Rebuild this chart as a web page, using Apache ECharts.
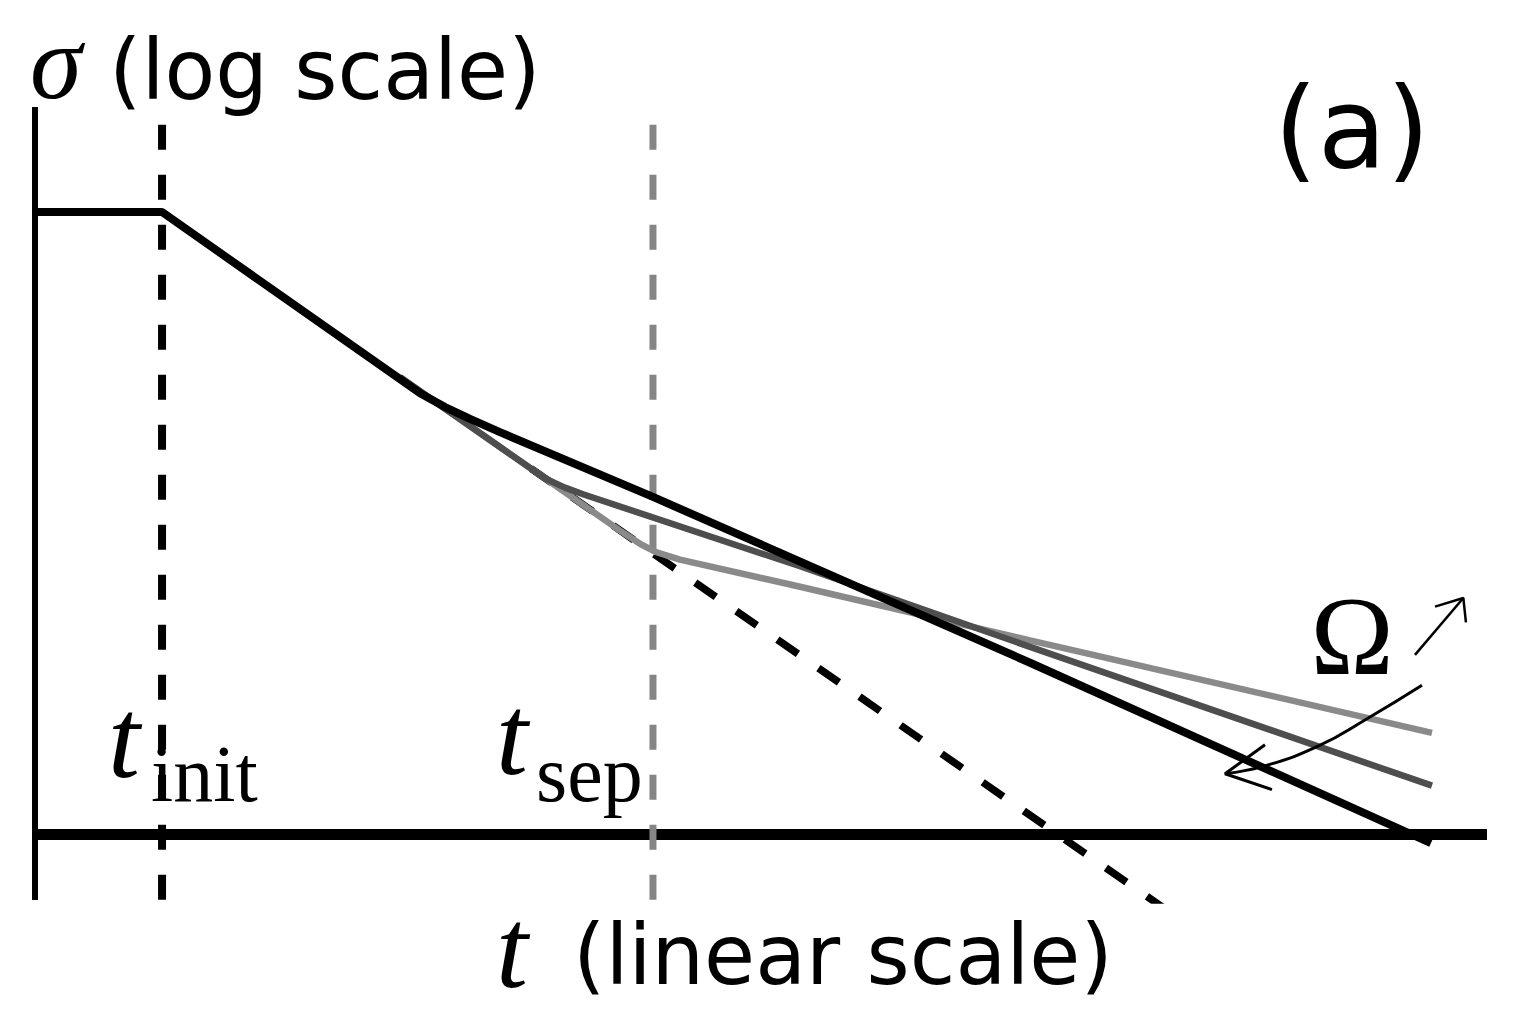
<!DOCTYPE html>
<html>
<head>
<meta charset="utf-8">
<title>sigma (log scale) vs t (linear scale)</title>
<script src="https://cdn.jsdelivr.net/npm/echarts@6/dist/echarts.min.js"></script>
<style>
  html, body { margin: 0; padding: 0; background: #ffffff; }
  #chart { width: 1514px; height: 1017px; }
</style>
</head>
<body>
<div id="chart"></div>
<script>
// schematic: t in arbitrary linear units, sigma in arbitrary log units (0 = t axis)
var tInit = 8.75
var tSep = 42.56
var markerTop = 10.73
var markerBottom = -1

// highest Omega (black), starts with the plateau before t_init
var sigmaHigh = [[0, 9.41], [8.75, 9.41], [26.52, 6.67], [28.24, 6.46], [29.96, 6.28], [32.02, 6.08], [42.56, 5.10], [68.53, 2.59], [96.14, -0.14]]
// middle Omega (dark grey)
var sigmaMid = [[25.14, 6.91], [35.12, 5.38], [36.50, 5.24], [37.74, 5.14], [52.69, 4.05], [68.53, 2.83], [96.21, 0.73]]
// lowest Omega (light grey)
var sigmaLow = [[25.14, 6.91], [40.29, 4.59], [41.67, 4.39], [42.70, 4.27], [44.42, 4.15], [52.69, 3.74], [68.53, 2.93], [96.21, 1.53]]
// pure decay continued (dashed)
var sigmaPure = [[34.16, 5.53], [78.51, -1.24]]

// Omega arrows
var omegaCurve = [[95.52, 2.25], [91.94, 1.77], [88.29, 1.32], [84.37, 1.01], [81.96, 0.91]]
var omegaCurveHead = [[84.71, 1.35], [81.96, 0.91], [85.19, 0.67]]
var omegaUp = [[95.04, 2.71], [98.37, 3.57]]
var omegaUpHead = [[96.42, 3.44], [98.37, 3.57], [98.55, 3.20]]

var chart = echarts.init(document.getElementById('chart'), null, { renderer: 'svg' })

function lineSeries (data, color, width, dash, smooth) {
  return {
    type: 'line',
    data: data,
    symbol: 'none',
    showSymbol: false,
    smooth: smooth || false,
    silent: true,
    animation: false,
    lineStyle: {
      color: color,
      width: width,
      type: dash || 'solid',
      cap: 'butt'
    }
  }
}

var sans = '"DejaVu Sans", sans-serif'
var serif = '"Liberation Serif", "DejaVu Serif", serif'

function label (x, y, text, font, align) {
  return {
    type: 'text',
    x: x,
    y: y,
    silent: true,
    style: {
      text: text,
      font: font,
      fill: '#000000',
      align: align || 'left',
      verticalAlign: 'middle'
    }
  }
}

var option = {
  animation: false,
  backgroundColor: '#ffffff',
  grid: {
    left: 35,
    right: 27,
    top: 107,
    bottom: 117,
    containLabel: false
  },
  xAxis: {
    type: 'value',
    min: 0,
    max: 100,
    axisLine: {
      show: true,
      onZero: true,
      lineStyle: { color: '#000000', width: 11, cap: 'butt' }
    },
    axisTick: { show: false },
    axisLabel: { show: false },
    splitLine: { show: false }
  },
  yAxis: {
    type: 'value',
    min: markerBottom,
    max: 11,
    axisLine: {
      show: true,
      lineStyle: { color: '#000000', width: 6, cap: 'butt' }
    },
    axisTick: { show: false },
    axisLabel: { show: false },
    splitLine: { show: false }
  },
  series: [
    lineSeries([[tInit, markerTop], [tInit, markerBottom]], '#000000', 8, [25, 25]),
    lineSeries([[tSep, markerTop], [tSep, markerBottom]], '#858585', 7, [25, 25]),
    lineSeries(sigmaPure, '#000000', 7.5, [25, 25]),
    lineSeries(sigmaLow, '#8a8a8a', 6.5),
    lineSeries(sigmaMid, '#4e4e4e', 6.5),
    lineSeries(sigmaHigh, '#000000', 8),
    lineSeries(omegaCurve, '#000000', 3, 'solid', true),
    lineSeries(omegaCurveHead, '#000000', 3),
    lineSeries(omegaUp, '#000000', 2.5),
    lineSeries(omegaUpHead, '#000000', 2.5)
  ],
  graphic: [
    label(30, 62, 'σ', 'italic 105px ' + serif),
    label(109, 70, '(log scale)', '83px ' + sans),
    label(1352, 128, '(a)', '112px ' + sans, 'center'),
    label(108, 738, 't', 'italic 115px ' + serif),
    label(151, 774, 'init', '80px ' + serif),
    label(496, 735, 't', 'italic 115px ' + serif),
    label(536, 774, 'sep', '80px ' + serif),
    label(1352, 636, 'Ω', '112px ' + serif, 'center'),
    label(496, 948, 't', 'italic 115px ' + serif),
    label(573, 955, '(linear scale)', '83px ' + sans)
  ]
}

chart.setOption(option)
window.addEventListener('resize', function () {
  chart.resize()
})
</script>
</body>
</html>
